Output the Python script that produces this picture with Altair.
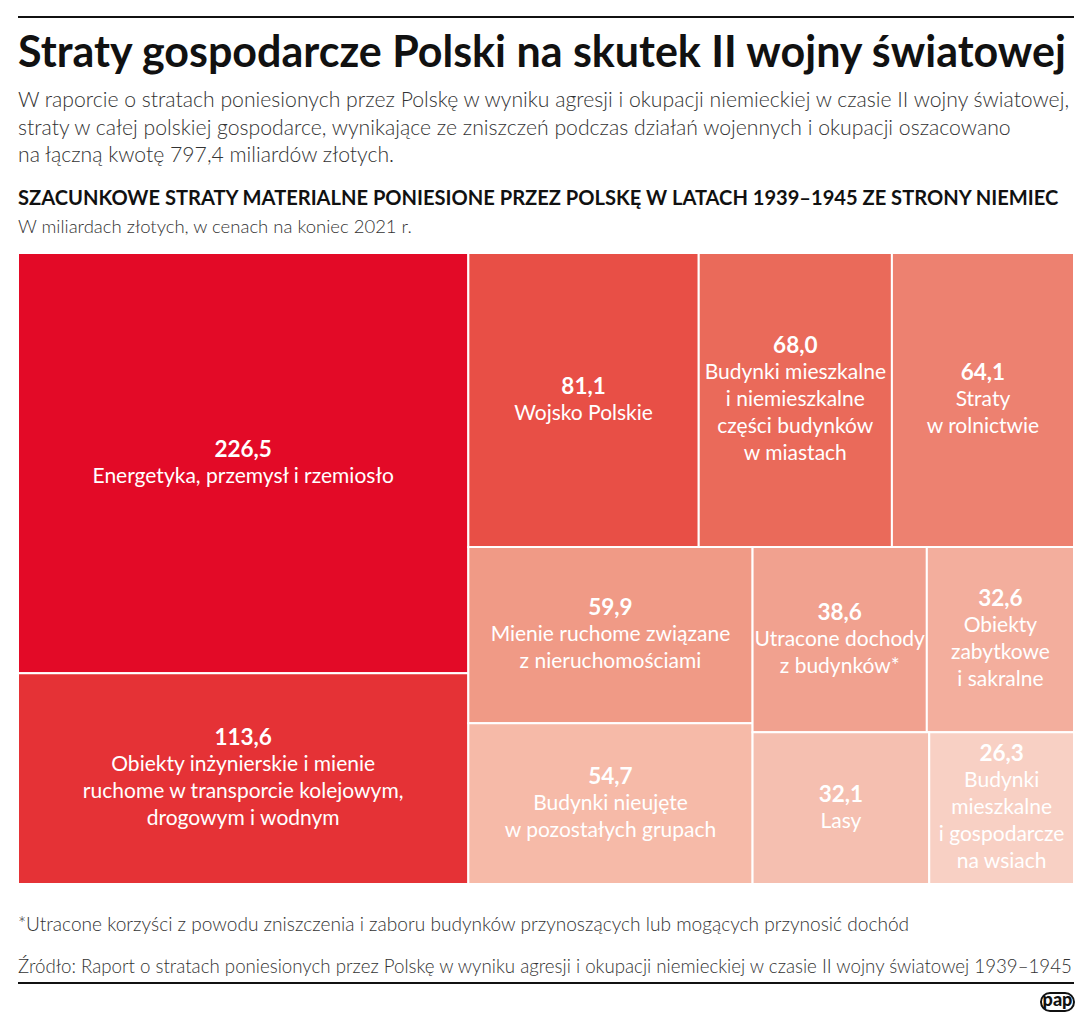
import altair as alt
import pandas as pd

# ---- data ----
values = [226.5, 113.6, 81.1, 68.0, 64.1, 59.9, 54.7, 38.6, 32.6, 32.1, 26.3]
value_labels = ["226,5", "113,6", "81,1", "68,0", "64,1", "59,9", "54,7", "38,6", "32,6", "32,1", "26,3"]
labels = [
    "Energetyka, przemysł i rzemiosło",
    "Obiekty inżynierskie i mienie\nruchome w transporcie kolejowym,\ndrogowym i wodnym",
    "Wojsko Polskie",
    "Budynki mieszkalne\ni niemieszkalne\nczęści budynków\nw miastach",
    "Straty\nw rolnictwie",
    "Mienie ruchome związane\nz nieruchomościami",
    "Budynki nieujęte\nw pozostałych grupach",
    "Utracone dochody\nz budynków*",
    "Obiekty\nzabytkowe\ni sakralne",
    "Lasy",
    "Budynki\nmieszkalne\ni gospodarcze\nna wsiach",
]
palette = ["#e30a27", "#e53236", "#e84f46", "#ea6a5a", "#ed8170", "#f09a86",
           "#f6baa8", "#f1a18f", "#f3ae9d", "#f5bfb0", "#f8d0c4"]

W, H = 1056, 631
LH = 27
FONT = "Lato"


def squarify(vals, x0, y0, x1, y1, ratio=(1 + 5 ** 0.5) / 2):
    """d3.treemapSquarify layout."""
    n = len(vals)
    rects = [None] * n
    i0 = i1 = 0
    value = sum(vals)
    while i0 < n:
        dx, dy = x1 - x0, y1 - y0
        sumv = vals[i1]
        i1 += 1
        minv = maxv = sumv
        alpha = max(dy / dx, dx / dy) / (value * ratio)
        beta = sumv * sumv * alpha
        minr = max(maxv / beta, beta / minv)
        while i1 < n:
            nv = vals[i1]
            s2 = sumv + nv
            mn, mx = min(minv, nv), max(maxv, nv)
            beta = s2 * s2 * alpha
            nr = max(mx / beta, beta / mn)
            if nr > minr:
                break
            sumv, minv, maxv, minr = s2, mn, mx, nr
            i1 += 1
        row = range(i0, i1)
        if dx < dy:
            ny = y0 + dy * sumv / value
            cx = x0
            for i in row:
                w = dx * vals[i] / sumv
                rects[i] = (cx, y0, cx + w, ny)
                cx += w
            y0 = ny
        else:
            nx = x0 + dx * sumv / value
            cy = y0
            for i in row:
                h = dy * vals[i] / sumv
                rects[i] = (x0, cy, nx, cy + h)
                cy += h
            x0 = nx
        value -= sumv
        i0 = i1
    return rects


rects = squarify(values, 0, 0, W, H)
rows = []
for i, (a, b, c, d) in enumerate(rects):
    nlines = labels[i].count("\n") + 1
    cy = (b + d) / 2
    yv = cy - nlines * LH / 2
    rows.append({
        "cat": labels[i], "val": value_labels[i], "label": labels[i],
        "x0": a, "y0": b, "x1": c, "y1": d,
        "cx": (a + c) / 2,
        "yv": yv,
        "yl": yv + LH,
    })
df = pd.DataFrame(rows)

xs = alt.Scale(domain=[0, W], nice=False, zero=False)
ys = alt.Scale(domain=[0, H], nice=False, zero=False, reverse=True)

base = alt.Chart(df)
cells = base.mark_rect(stroke="white", strokeWidth=2).encode(
    x=alt.X("x0:Q", scale=xs, axis=None),
    x2="x1:Q",
    y=alt.Y("y0:Q", scale=ys, axis=None),
    y2="y1:Q",
    color=alt.Color("cat:N", scale=alt.Scale(domain=labels, range=palette), legend=None),
)
vtext = base.mark_text(font=FONT, fontSize=22.5, fontWeight="bold", color="white",
                       baseline="middle", align="center").encode(
    x=alt.X("cx:Q", scale=xs), y=alt.Y("yv:Q", scale=ys), text="val:N")
ltext = base.mark_text(font=FONT, fontSize=21, color="white", lineBreak="\n",
                       lineHeight=LH, baseline="middle", align="center").encode(
    x=alt.X("cx:Q", scale=xs), y=alt.Y("yl:Q", scale=ys), text="label:N")

one = pd.DataFrame({"k": [0]})
TOP = 253  # page y of plot origin


def txt(s, ypage, size, weight="normal", color="#1a1a1a", x=0, align="left", font=FONT):
    return alt.Chart(one).mark_text(text=s, font=font, fontSize=size, fontWeight=weight,
                                    color=color, align=align, baseline="alphabetic").encode(
        x=alt.value(x), y=alt.value(ypage - TOP))


def hrule(ypage, w=2):
    return alt.Chart(one).mark_rule(color="#111", strokeWidth=w).encode(
        x=alt.value(0), x2=alt.value(W), y=alt.value(ypage - TOP))


sub = ["W raporcie o stratach poniesionych przez Polskę w wyniku agresji i okupacji niemieckiej w czasie II wojny światowej,",
       "straty w całej polskiej gospodarce, wynikające ze zniszczeń podczas działań wojennych i okupacji oszacowano",
       "na łączną kwotę 797,4 miliardów złotych."]

layers = [
    cells, vtext, ltext,
    hrule(17),
    txt("Straty gospodarcze Polski na skutek II wojny światowej", 67, 43, "bold", "#111"),
    txt(sub[0], 107, 21.2, 300, "#333"),
    txt(sub[1], 135, 21.2, 300, "#333"),
    txt(sub[2], 162, 21.2, 300, "#333"),
    txt("SZACUNKOWE STRATY MATERIALNE PONIESIONE PRZEZ POLSKĘ W LATACH 1939–1945 ZE STRONY NIEMIEC",
        205, 20.1, "bold", "#111"),
    txt("W miliardach złotych, w cenach na koniec 2021 r.", 233, 18.5, 300, "#333"),
    txt("*Utracone korzyści z powodu zniszczenia i zaboru budynków przynoszących lub mogących przynosić dochód",
        931, 19.1, 300, "#333"),
    txt("Źródło: Raport o stratach poniesionych przez Polskę w wyniku agresji i okupacji niemieckiej w czasie II wojny światowej 1939–1945",
        973, 18.7, 300, "#333"),
    hrule(983),
    alt.Chart(one).mark_rect(fill="white", stroke="#111", strokeWidth=2, cornerRadius=9).encode(
        x=alt.value(W - 33), x2=alt.value(W), y=alt.value(993 - TOP), y2=alt.value(1011 - TOP)),
    txt("pap", 1006, 18, 900, "#111", x=W - 16.5, align="center"),
]

chart = alt.layer(*layers).properties(
    width=W, height=H,
    padding={"left": 10, "top": 245, "right": 10, "bottom": 132},
    autosize=alt.AutoSizeParams(type="none"),
).configure_view(stroke=None)

chart.save("out.html", embed_options={"renderer": "svg", "actions": False})
